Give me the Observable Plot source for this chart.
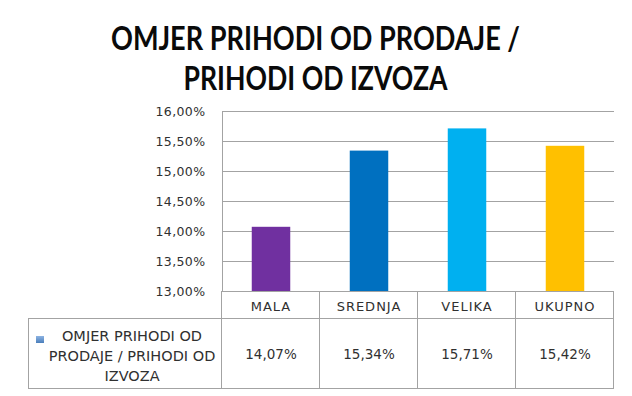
<!DOCTYPE html>
<html><head><meta charset="utf-8">
<script src="https://cdn.jsdelivr.net/npm/d3@7"></script>
<script src="https://cdn.jsdelivr.net/npm/@observablehq/plot@0.6"></script>
<style>
body{margin:0;background:#fff;}
#wrap{position:relative;width:632px;height:396px;overflow:hidden;background:#fff;}
#title{position:absolute;left:0;top:0;}
#chart{position:absolute;left:0;top:100px;}
.ln{position:absolute;background:#a3a3a3;}
.cell{position:absolute;display:flex;align-items:center;justify-content:center;font-family:"DejaVu Sans",sans-serif;color:#303030;font-size:13px;white-space:nowrap;}
</style></head><body>
<div id="wrap">
<svg id="title" width="632" height="100"></svg>
<div id="chart"></div>
</div>
<script>
// ---- data ----
const titleLines = ["OMJER PRIHODI OD PRODAJE /", "PRIHODI OD IZVOZA"];
const categories = ["MALA", "SREDNJA", "VELIKA", "UKUPNO"];
const values = [14.07, 15.34, 15.71, 15.42];
const colors = ["#7030a0", "#0070c0", "#00b0f0", "#ffc000"];
const yTicks = [13, 13.5, 14, 14.5, 15, 15.5, 16];
const seriesLabel = ["OMJER PRIHODI OD", "PRODAJE / PRIHODI OD", "IZVOZA"];

const fmt = v => v.toFixed(2).replace(".", ",") + "%";
const data = categories.map((c, i) => ({cat: c, value: values[i]}));
const yMin = d3.min(yTicks), yMax = d3.max(yTicks);

// ---- title ----
const tsvg = d3.select("#title");
const titleLayout = [{y: 50, len: 409}, {y: 89.5, len: 264}];
titleLines.forEach((t, i) => {
  tsvg.append("text")
    .attr("x", 315.5).attr("y", titleLayout[i].y)
    .attr("text-anchor", "middle")
    .attr("textLength", titleLayout[i].len)
    .attr("lengthAdjust", "spacingAndGlyphs")
    .attr("font-family", "Lato, 'Open Sans', sans-serif")
    .attr("font-weight", 700)
    .attr("font-size", 32)
    .attr("fill", "#0a0a0a")
    .text(t);
});

// ---- chart ----
const plot = Plot.plot({
  width: 632, height: 200,
  marginTop: 11, marginBottom: 9, marginLeft: 222, marginRight: 18,
  style: {fontFamily: "DejaVu Sans, sans-serif", fontSize: "12.5px", color: "#303030", background: "transparent", overflow: "visible", letterSpacing: "0.4px"},
  x: {type: "band", domain: categories, padding: 0, axis: null},
  y: {domain: [yMin, yMax], label: null},
  color: {domain: categories, range: colors},
  marks: [
    Plot.ruleY(yTicks, {stroke: "#a3a3a3", strokeWidth: 1}),
    Plot.barY(data, {x: "cat", y1: yMin, y2: "value", fill: "cat", insetLeft: 29.75, insetRight: 29.75}),
    Plot.axisY(yTicks, {tickSize: 0, tickPadding: 17, tickFormat: fmt, fill: "#303030", label: null}),
    Plot.frame({anchor: "left", stroke: "#a3a3a3"})
  ]
});
document.getElementById("chart").appendChild(plot);

// ---- data table below the axis, aligned to Plot's scales ----
const xs = plot.scale("x"), ys = plot.scale("y");
const x0 = xs.range[0], x1 = xs.range[1];
const step = (x1 - x0) / categories.length;
const tableTop = 100 + ys.range[0];      // page y of the 13% baseline
const headerH = 27, bodyH = 70, tableLeft = 28;
const wrap = d3.select("#wrap");
const line = (l, t, w, h) => wrap.append("div").attr("class", "ln")
  .style("left", l + "px").style("top", t + "px").style("width", w + "px").style("height", h + "px");

// horizontal lines
line(tableLeft, tableTop + headerH, x1 - tableLeft, 1);
line(tableLeft, tableTop + headerH + bodyH, x1 - tableLeft, 1);
// vertical lines
for (let i = 0; i <= categories.length; i++) line(x0 + i * step - 1, tableTop, 1, headerH + bodyH + 1);
line(tableLeft, tableTop + headerH, 1, bodyH + 1);

categories.forEach((c, i) => {
  wrap.append("div").attr("class", "cell")
    .style("left", (x0 + i * step) + "px").style("top", (tableTop + 2) + "px")
    .style("width", step + "px").style("height", headerH + "px")
    .style("letter-spacing", "1px")
    .text(c);
  wrap.append("div").attr("class", "cell")
    .style("left", (x0 + i * step) + "px").style("top", (tableTop + headerH + 1) + "px")
    .style("width", step + "px").style("height", bodyH + "px")
    .style("font-size", "13.5px")
    .text(fmt(values[i]));
});

// legend cell
const lg = wrap.append("div").attr("class", "cell")
  .style("left", (tableLeft + 14) + "px").style("top", (tableTop + headerH + 4) + "px")
  .style("width", (x0 - tableLeft - 14) + "px").style("height", bodyH + "px")
  .style("flex-direction", "column").style("font-size", "14.5px").style("line-height", "19.7px");
seriesLabel.forEach(s => lg.append("div").text(s));
wrap.append("div")
  .style("position", "absolute").style("left", "36px").style("top", (tableTop + headerH + 18) + "px")
  .style("width", "8px").style("height", "7px")
  .style("background", "linear-gradient(#8db3e2, #4a7ebb)");
</script>
</body></html>
